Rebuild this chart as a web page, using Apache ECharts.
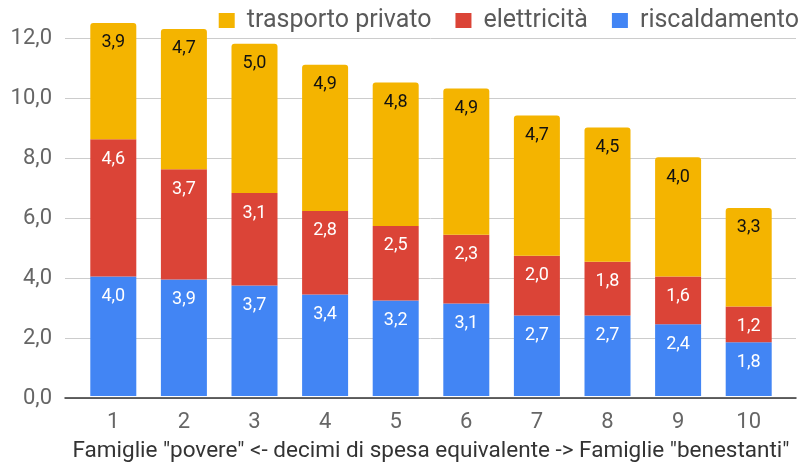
<!DOCTYPE html>
<html>
<head>
<meta charset="utf-8">
<title>Spesa per decile</title>
<script src="https://cdn.jsdelivr.net/npm/echarts@6/dist/echarts.min.js"></script>
<style>
  * { margin: 0; padding: 0 }
  html, body { width: 100%; height: 100%; background: #fff; }
  #main { width: 806px; height: 468px; }
</style>
</head>
<body>
<div id="main"></div>
<script type="text/javascript">
var decili = ['1', '2', '3', '4', '5', '6', '7', '8', '9', '10'];
var riscaldamento = [4.0, 3.9, 3.7, 3.4, 3.2, 3.1, 2.7, 2.7, 2.4, 1.8];
var elettricita = [4.6, 3.7, 3.1, 2.8, 2.5, 2.3, 2.0, 1.8, 1.6, 1.2];
var trasporto = [3.9, 4.7, 5.0, 4.9, 4.8, 4.9, 4.7, 4.5, 4.0, 3.3];

var font = 'Roboto, "Noto Sans", sans-serif';
function virgola(v) { return v.toFixed(1).replace('.', ','); }

var chart = echarts.init(document.getElementById('main'));

function etichetta(col) {
  return {
    show: true,
    position: 'insideTop',
    distance: 11,
    color: col,
    fontSize: 18,
    fontFamily: font,
    formatter: function (p) { return virgola(p.value); }
  };
}

chart.setOption({
  animation: false,
  legend: {
    top: 8,
    right: 7,
    padding: 0,
    itemWidth: 16,
    itemHeight: 15,
    itemGap: 24,
    icon: 'rect',
    textStyle: { fontSize: 25, color: '#5a5a5a', fontFamily: font, padding: [0, 0, 0, 7] },
    data: ['trasporto privato', 'elettricità', 'riscaldamento']
  },
  grid: [
    { left: 65, right: 10, top: 8, bottom: 70 },
    { left: 78, right: 22, top: 8, bottom: 70 }
  ],
  xAxis: [
    {
      gridIndex: 0, type: 'category', data: decili,
      axisLine: { show: true, lineStyle: { color: '#333', width: 1.5 } },
      axisTick: { show: false }, axisLabel: { show: false }
    },
    {
      gridIndex: 1, type: 'category', data: decili,
      axisLine: { show: false }, axisTick: { show: false },
      axisLabel: { fontSize: 22, color: '#666', fontFamily: font, margin: 15 },
      name: 'Famiglie "povere" <- decimi di spesa equivalente -> Famiglie "benestanti"',
      nameLocation: 'middle',
      nameGap: 44,
      nameTextStyle: { fontSize: 22.5, color: '#333', fontFamily: font }
    }
  ],
  yAxis: [
    {
      gridIndex: 0, type: 'value', min: 0, max: 13, interval: 2,
      axisLine: { show: false }, axisTick: { show: false },
      axisLabel: {
        fontSize: 22, color: '#666', fontFamily: font, margin: 13,
        showMaxLabel: false,
        formatter: function (v) { return virgola(v); }
      },
      splitLine: { showMaxLine: false, lineStyle: { color: '#ccc' } }
    },
    {
      gridIndex: 1, type: 'value', min: 0, max: 13, interval: 2,
      axisLine: { show: false }, axisTick: { show: false },
      axisLabel: { show: false }, splitLine: { show: false }
    }
  ],
  series: [
    {
      name: 'riscaldamento', type: 'bar', stack: 'tot',
      xAxisIndex: 1, yAxisIndex: 1, barWidth: 46,
      itemStyle: { color: '#4285F4' },
      label: etichetta('#fff'),
      data: riscaldamento
    },
    {
      name: 'elettricità', type: 'bar', stack: 'tot',
      xAxisIndex: 1, yAxisIndex: 1, barWidth: 46,
      itemStyle: { color: '#DB4437' },
      label: etichetta('#fff'),
      data: elettricita
    },
    {
      name: 'trasporto privato', type: 'bar', stack: 'tot',
      xAxisIndex: 1, yAxisIndex: 1, barWidth: 46,
      itemStyle: { color: '#F4B400', borderRadius: [3, 3, 0, 0] },
      label: etichetta('#111'),
      data: trasporto
    }
  ]
});
</script>
</body>
</html>
